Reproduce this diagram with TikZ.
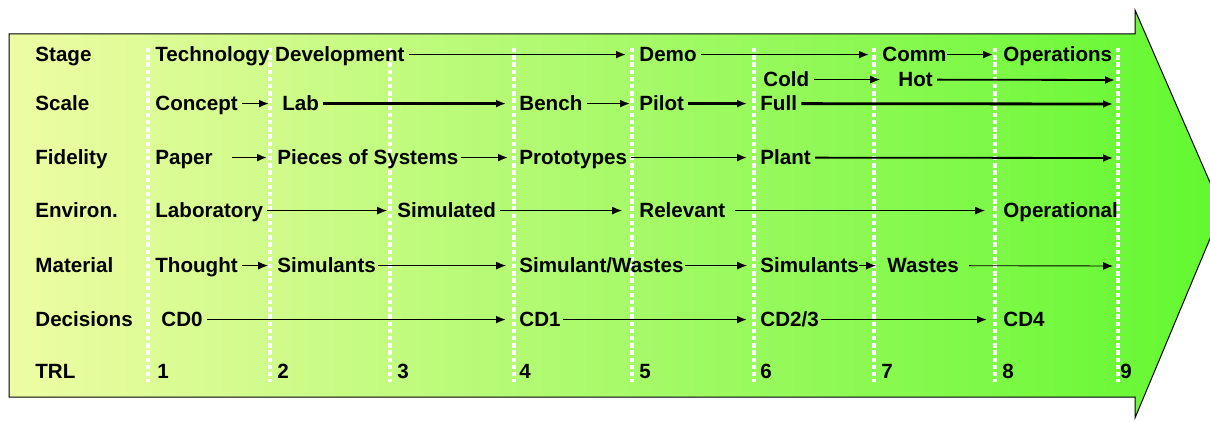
\documentclass[tikz,border=0pt]{standalone}
\usepackage{fontspec}
\setmainfont{Liberation Sans}
\usetikzlibrary{arrows.meta}

\definecolor{paleyellow}{RGB}{238,252,164}
\definecolor{midgreen}{RGB}{188,251,112}
\definecolor{brightgreen}{RGB}{98,248,48}

\begin{document}
\begin{tikzpicture}[x=0.5pt, y=-0.5pt,
  lbl/.style={anchor=base west, inner sep=0pt, text height=7.4pt, text depth=0pt, font=\bfseries\fontsize{10.3}{12}\selectfont},
  arr/.style={-{Latex[length=5pt,width=4pt]}, shorten <=2pt, shorten >=6.5pt},
  thinarr/.style={arr, line width=0.45pt},
  medarr/.style={arr, line width=0.9pt},
  thickarr/.style={arr, line width=1.4pt},
  divider/.style={white, line width=2pt, dash pattern=on 2.2pt off 1.4pt}]

\useasboundingbox (0,0) rectangle (1210,422);

\begin{scope}
\clip (0,0) rectangle (1210,422);
\path[draw=black, line width=0.5pt, left color=paleyellow, middle color=midgreen, right color=brightgreen]
  (9,34) -- (1135,34) -- (1135,10) -- (1222,210) -- (1135,418) -- (1135,397) -- (9,397) -- cycle;
\end{scope}

\foreach \x in {148,270,390,514,632,754,874,995,1118}
  \draw[divider] (\x,48) -- (\x,382);

\node[lbl] (stage) at (35,62) {Stage};
\node[lbl] (scale) at (35,111) {Scale};
\node[lbl] (fidelity) at (35,165) {Fidelity};
\node[lbl] (environ) at (35,218) {Environ.};
\node[lbl] (material) at (35,273) {Material};
\node[lbl] (decisions) at (35,327) {Decisions};
\node[lbl] (trl) at (35,379) {TRL};

\node[lbl] (techdev) at (155,62) {Technology Development};
\node[lbl] (demo) at (639,62) {Demo};
\node[lbl] (comm) at (882,62) {Comm};
\node[lbl] (operations) at (1003,62) {Operations};

\node[lbl] (cold) at (763,87) {Cold};
\node[lbl] (hot) at (898,87) {Hot};
\coordinate (hotend) at (1115,80);

\node[lbl] (concept) at (155,111) {Concept};
\node[lbl] (lab) at (282,111) {Lab};
\node[lbl] (bench) at (519,111) {Bench};
\node[lbl] (pilot) at (639,111) {Pilot};
\node[lbl] (full) at (760,111) {Full};
\coordinate (fullend) at (1113,104);

\node[lbl] (paper) at (155,165) {Paper};
\node[lbl] (pieces) at (277,165) {Pieces of Systems};
\node[lbl] (prototypes) at (519,165) {Prototypes};
\node[lbl] (plant) at (760,165) {Plant};
\coordinate (plantend) at (1113,158);

\node[lbl] (laboratory) at (155,218) {Laboratory};
\node[lbl] (simulated) at (397,218) {Simulated};
\node[lbl] (relevant) at (639,218) {Relevant};
\node[lbl] (operational) at (1003,218) {Operational};

\node[lbl] (thought) at (155,273) {Thought};
\node[lbl] (simulants) at (277,273) {Simulants};
\node[lbl] (simwastes) at (519,273) {Simulant/Wastes};
\node[lbl] (simulantsb) at (760,273) {Simulants};
\node[lbl] (wastes) at (887,273) {Wastes};
\coordinate (wastesend) at (1113,266);

\node[lbl] (cdzero) at (161,327) {CD0};
\node[lbl] (cdone) at (519,327) {CD1};
\node[lbl] (cdtwothree) at (760,327) {CD2/3};
\node[lbl] (cdfour) at (1003,327) {CD4};

\node[lbl] (trlone) at (157,379) {1};
\node[lbl] (trltwo) at (277,379) {2};
\node[lbl] (trlthree) at (397,379) {3};
\node[lbl] (trlfour) at (519,379) {4};
\node[lbl] (trlfive) at (639,379) {5};
\node[lbl] (trlsix) at (760,379) {6};
\node[lbl] (trlseven) at (881,379) {7};
\node[lbl] (trleight) at (1002,379) {8};
\node[lbl] (trlnine) at (1120,379) {9};

\draw[medarr] (techdev) -- (demo);
\draw[medarr] (demo) -- (comm);
\draw[medarr, shorten <=0pt, shorten >=5pt] (comm) -- (operations);

\draw[thinarr, shorten >=9pt] (cold) -- (hot);
\draw[medarr, shorten >=0pt] (hot) -- (hotend);

\draw[medarr] (concept) -- (lab);
\draw[thickarr] (lab) -- (bench);
\draw[medarr, shorten >=4.5pt] (bench) -- (pilot);
\draw[thickarr] (pilot) -- (full);
\draw[thickarr, shorten >=0pt] (full) -- (fullend);

\draw[medarr, shorten <=9.5pt, shorten >=5pt] (paper) -- (pieces);
\draw[medarr, shorten <=1pt, shorten >=5.5pt] (pieces) -- (prototypes);
\draw[medarr] (prototypes) -- (plant);
\draw[medarr, shorten >=0pt] (plant) -- (plantend);

\draw[thinarr, shorten >=5pt] (laboratory) -- (simulated);
\draw[thinarr, shorten >=8.5pt] (simulated) -- (relevant);
\draw[thinarr, shorten <=4.5pt, shorten >=9pt] (relevant) -- (operational);

\draw[thinarr, shorten >=4.5pt] (thought) -- (simulants);
\draw[thinarr, shorten <=1pt] (simulants) -- (simwastes);
\draw[thinarr, shorten <=0.5pt] (simwastes) -- (simulantsb);
\draw[thinarr, shorten <=0pt, shorten >=5.5pt] (simulantsb) -- (wastes);
\draw[thinarr, shorten <=5pt, shorten >=0pt] (wastes) -- (wastesend);

\draw[medarr] (cdzero) -- (cdone);
\draw[medarr, shorten <=1pt] (cdone) -- (cdtwothree);
\draw[medarr, shorten <=1pt, shorten >=8pt] (cdtwothree) -- (cdfour);

\end{tikzpicture}
\end{document}
